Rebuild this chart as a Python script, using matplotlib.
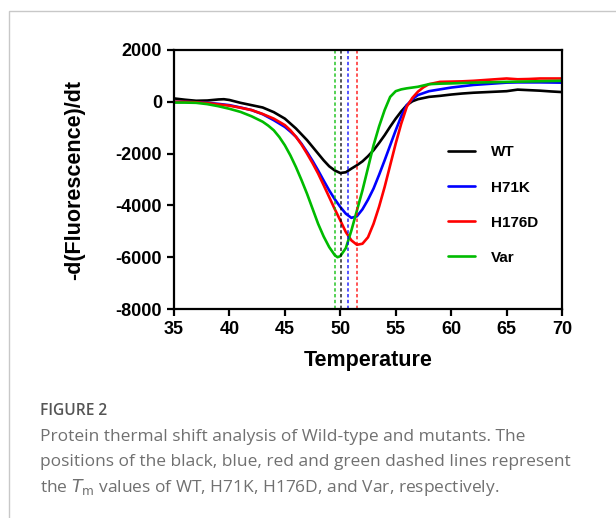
import matplotlib.pyplot as plt
from matplotlib.patches import Rectangle

plt.rcParams['axes.unicode_minus'] = False
plt.rcParams['font.family'] = ['Liberation Sans', 'DejaVu Sans']

# datos
wt_x = [35, 36, 37, 38, 39, 39.5, 40, 41, 42, 43, 44, 45, 46, 47, 47.5, 48, 48.5, 49, 49.5, 50,
        50.5, 51, 51.5, 52, 52.5, 53, 53.5, 54, 54.5, 55, 55.5, 56, 56.5, 57, 58, 59, 60, 61, 62,
        63, 64, 65, 66, 67, 68, 69, 70]
wt_y = [130, 80, 40, 50, 90, 100, 70, -40, -130, -220, -400, -650, -1030, -1480, -1740, -2000,
        -2260, -2490, -2650, -2750, -2720, -2580, -2450, -2300, -2100, -1870, -1590, -1290, -960,
        -650, -370, -130, 20, 100, 190, 230, 280, 320, 350, 370, 390, 410, 470, 450, 430, 400, 375]

h71k_x = [35, 36, 37, 38, 39, 40, 41, 42, 43, 44, 45, 45.5, 46, 46.5, 47, 47.5, 48, 48.5, 49, 49.5,
          50, 50.5, 51, 51.5, 52, 52.5, 53, 53.5, 54, 54.5, 55, 55.5, 56, 56.5, 57, 58, 59, 60, 61,
          62, 63, 64, 65, 66, 67, 68, 69, 70]
h71k_y = [0, 0, -20, -40, -80, -130, -220, -320, -480, -710, -970, -1150, -1350, -1620, -1940,
          -2280, -2650, -3040, -3420, -3760, -4060, -4320, -4480, -4420, -4150, -3780, -3350, -2820,
          -2260, -1680, -1100, -560, -130, 100, 260, 410, 480, 550, 600, 650, 680, 710, 740, 750,
          750, 750, 745, 740]

h176d_x = [35, 36, 37, 38, 39, 40, 41, 42, 43, 44, 45, 45.5, 46, 46.5, 47, 47.5, 48, 48.5, 49, 49.5,
           50, 50.5, 51, 51.5, 52, 52.5, 53, 53.5, 54, 54.5, 55, 55.5, 56, 56.5, 57, 57.5, 58, 59, 60,
           61, 62, 63, 64, 65, 66, 67, 68, 69, 70]
h176d_y = [0, 0, -20, -50, -100, -150, -230, -320, -470, -650, -900, -1100, -1350, -1650, -2000,
           -2370, -2770, -3220, -3680, -4140, -4580, -5030, -5350, -5520, -5480, -5230, -4710, -4050,
           -3290, -2450, -1610, -840, -190, 150, 390, 560, 680, 770, 780, 790, 810, 840, 870, 900,
           870, 880, 900, 900, 900]

var_x = [35, 36, 37, 38, 39, 40, 41, 42, 43, 43.5, 44, 44.5, 45, 45.5, 46, 46.5, 47, 47.5, 48, 48.5,
         49, 49.5, 49.75, 50, 50.5, 51, 51.5, 52, 52.5, 53, 53.5, 54, 54.5, 55, 55.5, 56, 57, 58, 59,
         60, 62, 65, 70]
var_y = [-30, -30, -40, -90, -170, -270, -390, -560, -770, -920, -1100, -1360, -1680, -2070, -2520,
         -3020, -3550, -4130, -4710, -5200, -5610, -5920, -6000, -5960, -5650, -4970, -4200, -3420,
         -2550, -1680, -950, -320, 190, 410, 480, 520, 580, 680, 700, 710, 740, 770, 810]

nombres = ['WT', 'H71K', 'H176D', 'Var']
colores = ['#000000', '#0000ff', '#ff0000', '#00bb00']
tm = [50.1, 50.7, 51.5, 49.5]

fig = plt.figure(figsize=(6.16, 5.18), dpi=100)
fig.patches.append(Rectangle((9 / 616, -0.1), 1.1, 1 - 11 / 518 + 0.1, transform=fig.transFigure,
                             fill=False, edgecolor='#c8c8c8', linewidth=1))
ax = fig.add_axes([174 / 616, 209 / 518, 388 / 616, 259 / 518])

series = [(wt_x, wt_y), (h71k_x, h71k_y), (h176d_x, h176d_y), (var_x, var_y)]
for (xs, ys), nombre, color in zip(series, nombres, colores):
    ax.plot(xs, ys, color=color, linewidth=1.9, label=nombre, solid_capstyle='round')

# lineas de Tm
for t, color in zip(tm, colores):
    ax.axvline(t, color=color, linewidth=1.1, linestyle=(0, (2.2, 1.6)), alpha=0.85)

ax.set_xlim(35, 70)
ax.set_ylim(-8000, 2000)
ax.set_xticks(range(35, 71, 5))
ax.set_yticks(range(-8000, 2001, 2000))
for lado in ax.spines.values():
    lado.set_linewidth(1.6)
ax.tick_params(axis='both', direction='out', length=5, width=1.6, labelsize=13)
ax.tick_params(top=False, right=False)
for lbl in ax.get_xticklabels() + ax.get_yticklabels():
    lbl.set_fontweight('bold')

ax.set_xlabel('Temperature', fontsize=15.5, fontweight='bold', labelpad=9)
ax.set_ylabel('-d(Fluorescence)/dt', fontsize=15.5, fontweight='bold', labelpad=22)

leg = ax.legend(loc='upper left', bbox_to_anchor=(0.69, 0.655), frameon=False,
                prop={'weight': 'bold', 'size': 11}, handlelength=1.8, handletextpad=1.0,
                labelspacing=1.38, borderaxespad=0)
for linea in leg.get_lines():
    linea.set_linewidth(1.9)

fig.text(40 / 616, 1 - 411 / 518, 'FIGURE 2', fontsize=11.2, color='#555555', va='center',
         family='Open Sans', fontweight='semibold')
caption = ['Protein thermal shift analysis of Wild-type and mutants. The',
           'positions of the black, blue, red and green dashed lines represent',
           'the $T_\\mathrm{m}$ values of WT, H71K, H176D, and Var, respectively.']
for i, linea in enumerate(caption):
    fig.text(40 / 616, 1 - (437 + 25 * i) / 518, linea, fontsize=12.5, color='#707070',
             va='center', family='Open Sans')

fig.savefig('out.png', dpi=100)
